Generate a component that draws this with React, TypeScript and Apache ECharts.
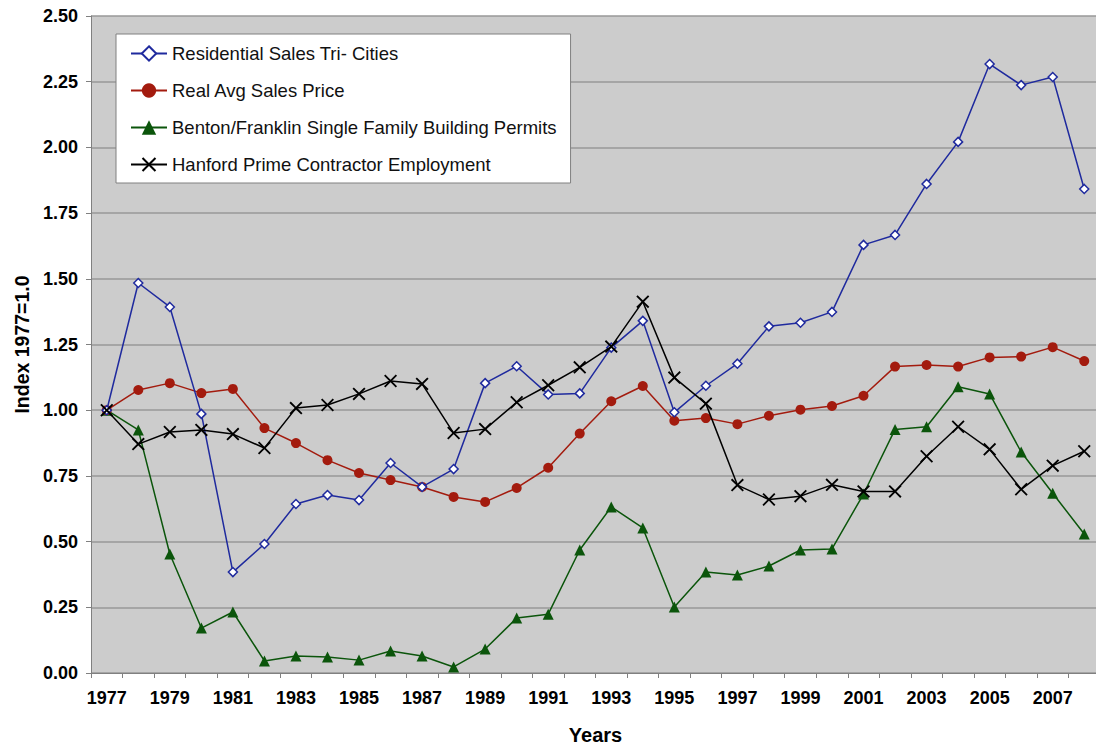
import React, { useEffect, useRef } from "react";
import * as echarts from "echarts";

const years = [
  "1977","1978","1979","1980","1981","1982","1983","1984","1985","1986","1987","1988","1989","1990","1991","1992",
  "1993","1994","1995","1996","1997","1998","1999","2000","2001","2002","2003","2004","2005","2006","2007","2008",
];

const residentialSales = [
  1.0, 1.484, 1.393, 0.986, 0.384, 0.491, 0.643, 0.677, 0.658, 0.799, 0.708, 0.776, 1.103, 1.167, 1.06, 1.064,
  1.238, 1.34, 0.992, 1.093, 1.177, 1.319, 1.333, 1.374, 1.629, 1.667, 1.861, 2.021, 2.317, 2.237, 2.268, 1.842,
];

const realAvgPrice = [
  1.0, 1.077, 1.103, 1.065, 1.081, 0.932, 0.875, 0.81, 0.761, 0.734, 0.708, 0.67, 0.651, 0.704, 0.781, 0.911,
  1.034, 1.092, 0.96, 0.97, 0.947, 0.979, 1.002, 1.016, 1.055, 1.166, 1.172, 1.166, 1.201, 1.204, 1.24, 1.187,
];

const buildingPermits = [
  1.0, 0.925, 0.453, 0.171, 0.232, 0.046, 0.065, 0.061, 0.049, 0.084, 0.065, 0.023, 0.091, 0.209, 0.224, 0.468,
  0.632, 0.552, 0.251, 0.384, 0.373, 0.407, 0.468, 0.472, 0.681, 0.927, 0.937, 1.089, 1.062, 0.841, 0.684, 0.529,
];

const hanfordEmployment = [
  1.0, 0.871, 0.917, 0.925, 0.909, 0.856, 1.008, 1.02, 1.062, 1.111, 1.1, 0.913, 0.928, 1.03, 1.095, 1.163,
  1.242, 1.413, 1.124, 1.025, 0.715, 0.66, 0.673, 0.716, 0.691, 0.691, 0.825, 0.937, 0.851, 0.699, 0.789, 0.844,
];

const FONT = "'Liberation Sans', Arial, sans-serif";
const X_SYMBOL =
  "path://M0,1 L1,0 L5,4 L9,0 L10,1 L6,5 L10,9 L9,10 L5,6 L1,10 L0,9 L4,5 Z";

export default function App() {
  const ref = useRef<HTMLDivElement>(null);

  useEffect(() => {
    document.body.style.margin = "0";
    document.body.style.overflow = "hidden";
    document.documentElement.style.overflow = "hidden";
    if (!ref.current) return;
    const chart = echarts.init(ref.current, undefined, { renderer: "svg" });
    chart.setOption({
      animation: false,
      backgroundColor: "#ffffff",
      textStyle: { fontFamily: FONT },
      grid: {
        left: 91,
        top: 16,
        width: 1009,
        height: 657,
        outerBoundsMode: "none",
        containLabel: false,
        backgroundColor: "#CCCCCC",
        show: true,
        borderWidth: 0,
      },
      legend: {
        orient: "vertical",
        left: 116,
        top: 34,
        backgroundColor: "#ffffff",
        borderColor: "#808080",
        borderWidth: 1,
        padding: [10, 14, 9, 14],
        itemWidth: 36,
        itemHeight: 18,
        itemGap: 18,
        textStyle: { fontSize: 18.5, lineHeight: 18, color: "#111", fontFamily: FONT },
        data: [
          "Residential Sales Tri- Cities",
          "Real Avg Sales Price",
          "Benton/Franklin Single Family Building Permits",
          "Hanford Prime Contractor Employment",
        ],
      },
      xAxis: {
        type: "category",
        data: years,
        boundaryGap: true,
        name: "Years",
        nameLocation: "middle",
        nameGap: 52,
        nameTextStyle: { fontSize: 20, fontWeight: "bold", color: "#000", fontFamily: FONT },
        axisLine: { lineStyle: { color: "#808080", width: 1 } },
        axisTick: { show: true, interval: 0, length: 5, lineStyle: { color: "#808080" } },
        axisLabel: { interval: 1, fontSize: 18, fontWeight: "bold", color: "#000", margin: 16, fontFamily: FONT },
        splitLine: { show: false },
      },
      yAxis: {
        type: "value",
        min: 0,
        max: 2.5,
        interval: 0.25,
        name: "Index 1977=1.0",
        nameLocation: "middle",
        nameGap: 58,
        nameTextStyle: { fontSize: 19.5, fontWeight: "bold", color: "#000", fontFamily: FONT },
        axisLine: { show: true, lineStyle: { color: "#808080", width: 1 } },
        axisTick: { show: true, length: 5, lineStyle: { color: "#808080" } },
        axisLabel: {
          formatter: (v: number) => v.toFixed(2),
          fontSize: 18,
          fontWeight: "bold",
          color: "#000",
          margin: 13,
          fontFamily: FONT,
        },
        splitLine: { show: true, lineStyle: { color: "#999999", width: 1.5 } },
      },
      series: [
        {
          name: "Residential Sales Tri- Cities",
          type: "line",
          data: residentialSales,
          symbol: "diamond",
          symbolSize: 9,
          showAllSymbol: true,
          lineStyle: { color: "#1F2A9E", width: 1.5 },
          itemStyle: { color: "#ffffff", borderColor: "#1F2A9E", borderWidth: 1.5 },
          z: 4,
        },
        {
          name: "Real Avg Sales Price",
          type: "line",
          data: realAvgPrice,
          symbol: "circle",
          symbolSize: 10,
          showAllSymbol: true,
          lineStyle: { color: "#A31B0E", width: 1.5 },
          itemStyle: { color: "#A31B0E", borderWidth: 0 },
          z: 3,
        },
        {
          name: "Benton/Franklin Single Family Building Permits",
          type: "line",
          data: buildingPermits,
          symbol: "triangle",
          symbolSize: 11,
          showAllSymbol: true,
          lineStyle: { color: "#0B550B", width: 1.5 },
          itemStyle: { color: "#0B550B", borderWidth: 0 },
          z: 2,
        },
        {
          name: "Hanford Prime Contractor Employment",
          type: "line",
          data: hanfordEmployment,
          symbol: X_SYMBOL,
          symbolSize: 13,
          showAllSymbol: true,
          lineStyle: { color: "#000000", width: 1.5 },
          itemStyle: { color: "#000000", borderWidth: 0 },
          z: 5,
        },
      ],
    });
    return () => chart.dispose();
  }, []);

  return (
    <div
      ref={ref}
      style={{ position: "relative", width: 1096, height: 745, overflow: "hidden", background: "#fff" }}
    />
  );
}
